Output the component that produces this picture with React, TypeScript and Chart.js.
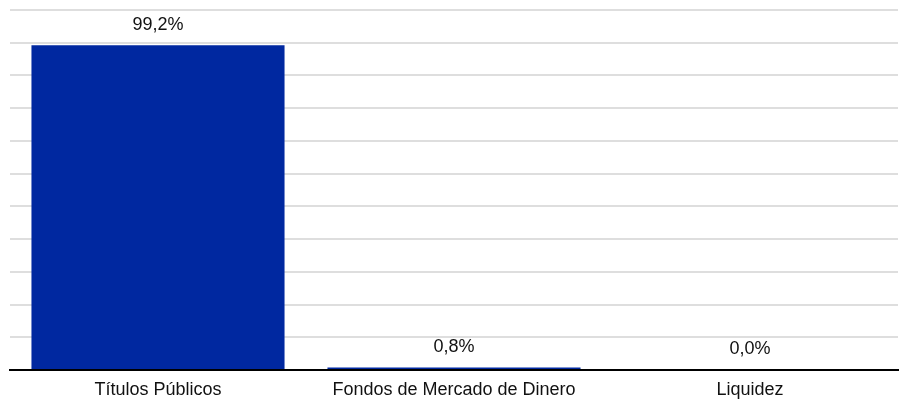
import React, { useEffect, useRef } from "react";
import { Chart, registerables } from "chart.js";

Chart.register(...registerables);

const categories = ["Títulos Públicos", "Fondos de Mercado de Dinero", "Liquidez"];
const values = [99.2, 0.8, 0.0];
const valueLabels = ["99,2%", "0,8%", "0,0%"];

const FONT = '"Liberation Sans", Arial, sans-serif';

const labelPlugin = {
  id: "barLabels",
  afterDatasetsDraw(chart: any) {
    const { ctx } = chart;
    const meta = chart.getDatasetMeta(0);
    ctx.save();
    ctx.font = `18px ${FONT}`;
    ctx.fillStyle = "#111";
    ctx.textAlign = "center";
    ctx.textBaseline = "alphabetic";
    meta.data.forEach((bar: any, i: number) => {
      ctx.fillText(valueLabels[i], bar.x, Math.min(bar.y - 15, bar.base - 16));
    });
    ctx.restore();
  },
};

export default function App() {
  const ref = useRef<HTMLCanvasElement>(null);
  useEffect(() => {
    if (!ref.current) return;
    const chart = new Chart(ref.current, {
      type: "bar",
      data: {
        labels: categories,
        datasets: [
          {
            data: values,
            backgroundColor: "#0028A0",
            borderWidth: 0,
            categoryPercentage: 1,
            barPercentage: 0.855,
          },
        ],
      },
      options: {
        animation: false,
        responsive: true,
        maintainAspectRatio: false,
        layout: { padding: { left: 10, right: 4, top: 10, bottom: 0 } },
        plugins: {
          legend: { display: false },
          tooltip: { enabled: false },
          title: { display: false },
        },
        scales: {
          x: {
            grid: { display: false },
            border: { display: true, color: "#000", width: 2 },
            ticks: {
              font: { size: 18, family: FONT },
              color: "#111",
              padding: 1,
              maxRotation: 0,
            },
            afterFit: (scale: any) => {
              scale.height = 31;
            },
          },
          y: {
            min: 0,
            max: 110,
            ticks: { display: false, stepSize: 10 },
            grid: { color: "#dedede", lineWidth: 2, drawTicks: false },
            border: { display: false },
            afterFit: (scale: any) => {
              scale.width = 0;
            },
          },
        },
      },
      plugins: [labelPlugin],
    });
    return () => chart.destroy();
  }, []);
  return (
    <div style={{ position: "fixed", left: 0, top: 0, width: 902, height: 401, background: "#fff" }}>
      <canvas ref={ref} />
    </div>
  );
}
